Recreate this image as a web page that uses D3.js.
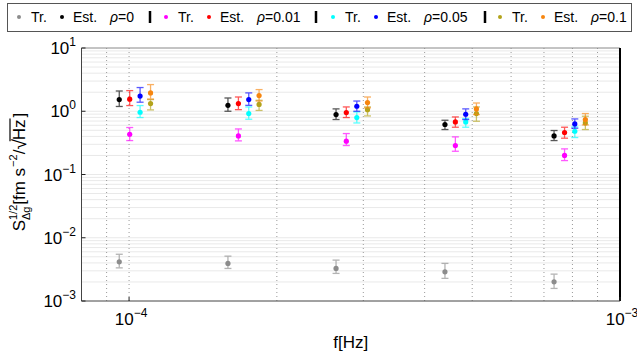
<!DOCTYPE html>
<html><head><meta charset="utf-8">
<script src="https://cdn.jsdelivr.net/npm/d3@7"></script>
<style>body{margin:0;background:#fff} svg{display:block} text{font-family:"Liberation Sans",Arial,sans-serif;fill:#000}</style>
</head><body><svg id="c" width="637" height="360"></svg>
<script>
// ---- data ----
const rhoLabels = ["0", "0.01", "0.05", "0.1"];
const freqRho0   = [9.55e-5, 1.59e-4, 2.64e-4, 4.40e-4, 7.34e-4];
const freqRho001 = [1.003e-4, 1.67e-4, 2.77e-4, 4.62e-4, 7.71e-4];
const freqRho005 = [1.053e-4, 1.753e-4, 2.91e-4, 4.85e-4, 8.09e-4];
const freqRho01  = [1.106e-4, 1.84e-4, 3.06e-4, 5.10e-4, 8.50e-4];

const trRho0    = [0.00416, 0.00393, 0.00327, 0.00289, 0.00201];
const trRho0Lo  = [0.00334, 0.00327, 0.00273, 0.00228, 0.00158];
const trRho0Hi  = [0.00548, 0.00512, 0.00443, 0.00393, 0.00266];
const estRho0   = [1.53, 1.24, 0.887, 0.617, 0.407];
const estRho0Lo = [1.19, 1.00, 0.74, 0.514, 0.344];
const estRho0Hi = [2.09, 1.62, 1.09, 0.721, 0.496];

const trRho001    = [0.433, 0.407, 0.336, 0.287, 0.200];
const trRho001Lo  = [0.344, 0.340, 0.287, 0.233, 0.166];
const trRho001Hi  = [0.553, 0.525, 0.444, 0.393, 0.254];
const estRho001   = [1.55, 1.32, 0.954, 0.678, 0.461];
const estRho001Lo = [1.23, 1.06, 0.795, 0.559, 0.375];
const estRho001Hi = [2.12, 1.68, 1.17, 0.813, 0.559];

const trRho005    = [0.964, 0.92, 0.795, 0.678, 0.483];
const trRho005Lo  = [0.795, 0.748, 0.653, 0.559, 0.384];
const trRho005Hi  = [1.23, 1.17, 0.975, 0.767, 0.565];
const estRho005   = [1.74, 1.53, 1.20, 0.897, 0.630];
const estRho005Lo = [1.39, 1.24, 1.00, 0.74, 0.539];
const estRho005Hi = [2.37, 1.95, 1.45, 1.09, 0.756];

const trRho01    = [1.32, 1.28, 1.06, 0.92, 0.653];
const trRho01Lo  = [1.05, 1.03, 0.843, 0.695, 0.514];
const trRho01Hi  = [1.53, 1.49, 1.17, 1.17, 0.834];
const estRho01   = [1.95, 1.77, 1.37, 1.09, 0.74];
const estRho01Lo = [1.56, 1.45, 1.13, 0.887, 0.608];
const estRho01Hi = [2.64, 2.20, 1.68, 1.35, 0.92];

const xTickVals = [1e-4, 1e-3];
const yTickVals = [1e-3, 1e-2, 1e-1, 1e0, 1e1];

// ---- build series ----
const colors = {tr0:"#8c8c8c", est0:"#000000", tr1:"#ff00ff", est1:"#ff0000",
                tr2:"#00ffff", est2:"#0000ff", tr3:"#b3a31b", est3:"#f7860f"};
const series = [
  {f:freqRho0,   v:trRho0,   lo:trRho0Lo,   hi:trRho0Hi,   c:colors.tr0},
  {f:freqRho0,   v:estRho0,  lo:estRho0Lo,  hi:estRho0Hi,  c:colors.est0},
  {f:freqRho001, v:trRho001, lo:trRho001Lo, hi:trRho001Hi, c:colors.tr1},
  {f:freqRho001, v:estRho001,lo:estRho001Lo,hi:estRho001Hi,c:colors.est1},
  {f:freqRho005, v:trRho005, lo:trRho005Lo, hi:trRho005Hi, c:colors.tr2},
  {f:freqRho005, v:estRho005,lo:estRho005Lo,hi:estRho005Hi,c:colors.est2},
  {f:freqRho01,  v:trRho01,  lo:trRho01Lo,  hi:trRho01Hi,  c:colors.tr3},
  {f:freqRho01,  v:estRho01, lo:estRho01Lo, hi:estRho01Hi, c:colors.est3}
];

const svg = d3.select("#c");
const X0 = 81.5, X1 = 620, Y0 = 301, Y1 = 48;
const x = d3.scaleLog().domain([8e-5, 1e-3]).range([X0, X1]);
const y = d3.scaleLog().domain([1e-3, 10]).range([Y0, Y1]);

// grid
const yGrid = [];
for (let e = -3; e <= 0; e++) for (let k = 1; k <= 9; k++) { if (k>1 || e>-3) yGrid.push(k*Math.pow(10,e)); }
const xGrid = [8e-5, 9e-5];
for (let k = 1; k <= 9; k++) xGrid.push(k*1e-4);
svg.append("g").selectAll("line").data(yGrid).join("line")
  .attr("x1", X0).attr("x2", X1).attr("y1", d=>y(d)).attr("y2", d=>y(d))
  .attr("stroke", "#e9e9e9").attr("stroke-width", 1);
svg.append("g").selectAll("line").data(xGrid).join("line")
  .attr("y1", Y0).attr("y2", Y1).attr("x1", d=>x(d)).attr("x2", d=>x(d))
  .attr("stroke", "#999").attr("stroke-width", 1).attr("stroke-dasharray", "1,3");

// box
svg.append("line").attr("x1",X0).attr("x2",X1).attr("y1",Y1).attr("y2",Y1).attr("stroke","#888");
svg.append("line").attr("x1",X1).attr("x2",X1).attr("y1",Y1).attr("y2",Y0).attr("stroke","#000").attr("stroke-width",2);
svg.append("line").attr("x1",X0).attr("x2",X1).attr("y1",Y0).attr("y2",Y0).attr("stroke","#444");
svg.append("line").attr("x1",X0).attr("x2",X0).attr("y1",Y1).attr("y2",Y0).attr("stroke","#444");

// ticks
svg.append("g").selectAll("line").data(yTickVals).join("line")
  .attr("x1", X0).attr("x2", X0+4).attr("y1", d=>y(d)).attr("y2", d=>y(d)).attr("stroke", "#222");
svg.append("g").selectAll("line").data(xTickVals).join("line")
  .attr("y1", Y0).attr("y2", Y0-4).attr("x1", d=>x(d)).attr("x2", d=>x(d)).attr("stroke", "#222");

function powLabel(sel, d) {
  const e = Math.round(Math.log10(d));
  sel.append("tspan").text("10");
  sel.append("tspan").attr("font-size", 12).attr("dy", -8).text(e < 0 ? "\u2212" + (-e) : String(e));
}
svg.append("g").selectAll("text").data(yTickVals).join("text")
  .attr("x", 76).attr("y", d=>y(d)+6).attr("text-anchor","end").attr("font-size",17)
  .each(function(d){ powLabel(d3.select(this), d); });
svg.append("g").selectAll("text").data(xTickVals).join("text")
  .attr("x", d=>x(d)+2).attr("y", 325).attr("text-anchor","middle").attr("font-size",17)
  .each(function(d){ powLabel(d3.select(this), d); });

// axis labels
svg.append("text").attr("x", (X0+X1)/2).attr("y", 348).attr("text-anchor","middle")
  .attr("font-size", 17).text("f[Hz]");

const yl = svg.append("g").attr("transform", "translate(25,172) rotate(-90)");
let cx = 0;
function piece(txt, size, dy) {
  const t = yl.append("text").attr("x", cx).attr("y", dy).attr("font-size", size).text(txt);
  return t;
}
let t = piece("S", 17, 0); cx += t.node().getComputedTextLength();
let a = piece("1/2", 11, -8), b = piece("\u0394g", 11, 5);
cx += Math.max(a.node().getComputedTextLength(), b.node().getComputedTextLength());
t = piece("[fm s", 17, 0); cx += t.node().getComputedTextLength() + 1;
t = piece("\u22122", 11, -8); cx += t.node().getComputedTextLength();
t = piece("/", 17, 0); cx += t.node().getComputedTextLength();
t = piece("\u221A", 19, 1); cx += t.node().getComputedTextLength() - 1;
t = piece("Hz", 17, 0); const hzW = t.node().getComputedTextLength();
yl.append("line").attr("x1", cx-1).attr("x2", cx+hzW+1).attr("y1", -15).attr("y2", -15).attr("stroke","#000").attr("stroke-width",1.2);
cx += hzW + 2;
t = piece("]", 17, 0); cx += t.node().getComputedTextLength();
yl.selectAll("text").attr("transform", `translate(${-cx/2},0)`);
yl.select("line").attr("transform", `translate(${-cx/2},0)`);

// data marks
const gs = svg.append("g").selectAll("g").data(series).join("g");
gs.each(function(s){
  const g = d3.select(this);
  const pts = s.f.map((f,i)=>({f, v:s.v[i], lo:s.lo[i], hi:s.hi[i]}));
  const eb = g.append("g").attr("stroke", s.c).attr("stroke-width", 1.3).attr("opacity", 0.65);
  eb.selectAll(".v").data(pts).join("line").attr("class","v")
    .attr("x1", d=>x(d.f)).attr("x2", d=>x(d.f)).attr("y1", d=>y(d.lo)).attr("y2", d=>y(d.hi));
  eb.selectAll(".t").data(pts).join("line").attr("class","t")
    .attr("x1", d=>x(d.f)-3.5).attr("x2", d=>x(d.f)+3.5).attr("y1", d=>y(d.hi)).attr("y2", d=>y(d.hi));
  eb.selectAll(".b").data(pts).join("line").attr("class","b")
    .attr("x1", d=>x(d.f)-3.5).attr("x2", d=>x(d.f)+3.5).attr("y1", d=>y(d.lo)).attr("y2", d=>y(d.lo));
  g.selectAll("circle").data(pts).join("circle")
    .attr("cx", d=>x(d.f)).attr("cy", d=>y(d.v)).attr("r", 2.6).attr("fill", s.c);
});

// legend
svg.append("rect").attr("x",7.5).attr("y",3.5).attr("width",624).attr("height",28)
  .attr("fill","#fff").attr("stroke","#555");
const groupStarts = [19, 166, 333, 500];
const sepX = [150, 316, 485];
const lg = svg.append("g").selectAll("g").data(rhoLabels).join("g")
  .attr("transform", (d,i)=>`translate(${groupStarts[i]},0)`);
lg.each(function(d,i){
  const g = d3.select(this);
  g.append("circle").attr("cx",0).attr("cy",17).attr("r",2).attr("fill", series[2*i].c);
  g.append("text").attr("x",12).attr("y",22).attr("font-size",14).text("Tr.");
  g.append("circle").attr("cx",43).attr("cy",17).attr("r",2).attr("fill", series[2*i+1].c);
  g.append("text").attr("x",54).attr("y",22).attr("font-size",14).text("Est.");
  const r = g.append("text").attr("x",91).attr("y",22).attr("font-size",14);
  r.append("tspan").attr("font-style","italic").text("\u03C1");
  r.append("tspan").text("=" + d);
});
svg.append("g").selectAll("line").data(sepX).join("line")
  .attr("x1", d=>d).attr("x2", d=>d).attr("y1", 11).attr("y2", 23)
  .attr("stroke","#000").attr("stroke-width",2.5);
</script></body></html>
